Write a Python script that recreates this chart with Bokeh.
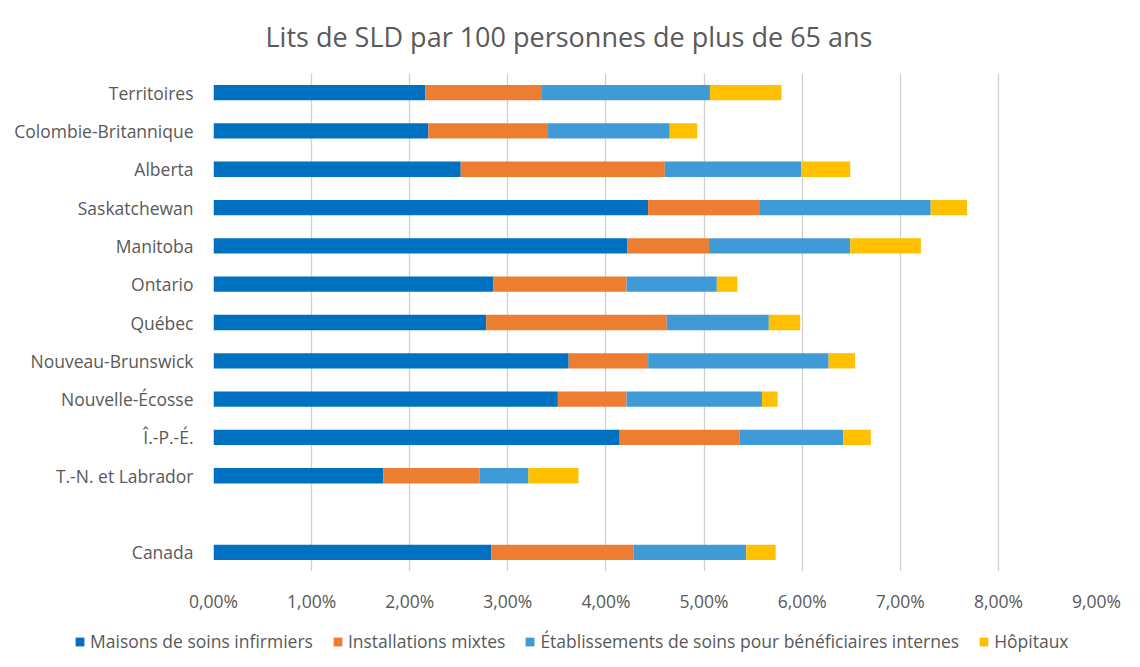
from bokeh.plotting import figure
from bokeh.models import FactorRange, FixedTicker, Legend, LegendItem, ColumnDataSource, Range1d
from bokeh.layouts import column
from bokeh.embed import file_html
from bokeh.resources import INLINE

categories = ["Territoires", "Colombie-Britannique", "Alberta", "Saskatchewan", "Manitoba",
              "Ontario", "Québec", "Nouveau-Brunswick", "Nouvelle-Écosse", "Î.-P.-É.",
              "T.-N. et Labrador", "Canada"]
maisons = [2.16, 2.19, 2.52, 4.43, 4.22, 2.85, 2.78, 3.62, 3.51, 4.14, 1.73, 2.83]
mixtes = [1.18, 1.22, 2.08, 1.14, 0.83, 1.36, 1.84, 0.81, 0.70, 1.22, 0.98, 1.45]
etablissements = [1.72, 1.24, 1.39, 1.74, 1.44, 0.92, 1.04, 1.84, 1.38, 1.06, 0.50, 1.15]
hopitaux = [0.73, 0.28, 0.50, 0.37, 0.72, 0.21, 0.32, 0.27, 0.16, 0.28, 0.51, 0.30]
series_names = ["Maisons de soins infirmiers", "Installations mixtes",
                "Établissements de soins pour bénéficiaires internes", "Hôpitaux"]
colors = ["#0070C0", "#ED7D31", "#409AD6", "#FFC000"]
x_ticks = [0, 1, 2, 3, 4, 5, 6, 7, 8, 9]
x_tick_labels = ["0,00%", "1,00%", "2,00%", "3,00%", "4,00%", "5,00%", "6,00%", "7,00%", "8,00%", "9,00%"]

FONT = "Open Sans"
TXT = "#595959"
FS = "17.5px"

factors = ["Canada", " "] + list(reversed(categories[:-1]))

source = ColumnDataSource(dict(cat=categories, s0=maisons, s1=mixtes, s2=etablissements, s3=hopitaux))

p = figure(width=1132, height=615, y_range=FactorRange(factors=factors, range_padding=0),
           x_range=(0, 9), output_backend="svg", toolbar_location=None,
           min_border_left=213, min_border_right=36, min_border_top=72, min_border_bottom=42)
p.frame_align = False

renderers = p.hbar_stack(["s0", "s1", "s2", "s3"], y="cat", height=0.4, color=colors,
                         line_color=None, source=source)

p.title.text = "Lits de SLD par 100 personnes de plus de 65 ans"
p.title.text_font = FONT
p.title.text_font_size = "27px"
p.title.text_font_style = "normal"
p.title.text_color = TXT
p.title.align = "left"
p.title.vertical_align = "top"
p.title.offset = 52
p.title.standoff = 34

p.xaxis.ticker = FixedTicker(ticks=x_ticks)
p.xaxis.major_label_overrides = {t: l for t, l in zip(x_ticks, x_tick_labels)}
p.xaxis.axis_line_color = None
p.xaxis.major_tick_line_color = None
p.xaxis.major_tick_out = 0
p.xaxis.minor_tick_line_color = None
p.xaxis.major_label_standoff = 17
p.xaxis.major_label_text_font = FONT
p.xaxis.major_label_text_font_size = FS
p.xaxis.major_label_text_color = TXT

p.yaxis.axis_line_color = None
p.yaxis.major_tick_line_color = None
p.yaxis.major_tick_out = 0
p.yaxis.major_label_standoff = 20
p.yaxis.major_label_text_font = FONT
p.yaxis.major_label_text_font_size = FS
p.yaxis.major_label_text_color = TXT

p.xgrid.grid_line_color = "#D0D0D0"
p.xgrid.grid_line_width = 1.3
p.ygrid.grid_line_color = None
p.outline_line_color = None

# legend strip below the chart (same data, hidden renderers, only used for swatches)
lg = figure(width=1132, height=44, x_range=Range1d(0, 9),
            y_range=FactorRange(factors=factors, range_padding=0),
            output_backend="svg", toolbar_location=None, x_axis_type=None, y_axis_type=None,
            min_border_left=0, min_border_right=0, min_border_top=0, min_border_bottom=0)
lg.frame_align = False
lg.outline_line_color = None
lg.xgrid.visible = False
lg.ygrid.visible = False
swatches = lg.hbar_stack(["s0", "s1", "s2", "s3"], y="cat", height=0.4, color=colors,
                         line_color=None, source=source)
for r in swatches:
    r.visible = False
legend = Legend(items=[LegendItem(label=n, renderers=[r]) for n, r in zip(series_names, swatches)],
                orientation="horizontal", location=(74, 6), border_line_color=None,
                background_fill_alpha=0, glyph_width=11, glyph_height=11,
                inactive_fill_alpha=0,
                label_text_font=FONT, label_text_font_size=FS, label_text_color=TXT,
                label_standoff=5, spacing=19, padding=5, margin=0)
lg.add_layout(legend, "center")

layout = column(p, lg, spacing=0)
open("out.html", "w").write(file_html(layout, INLINE))
